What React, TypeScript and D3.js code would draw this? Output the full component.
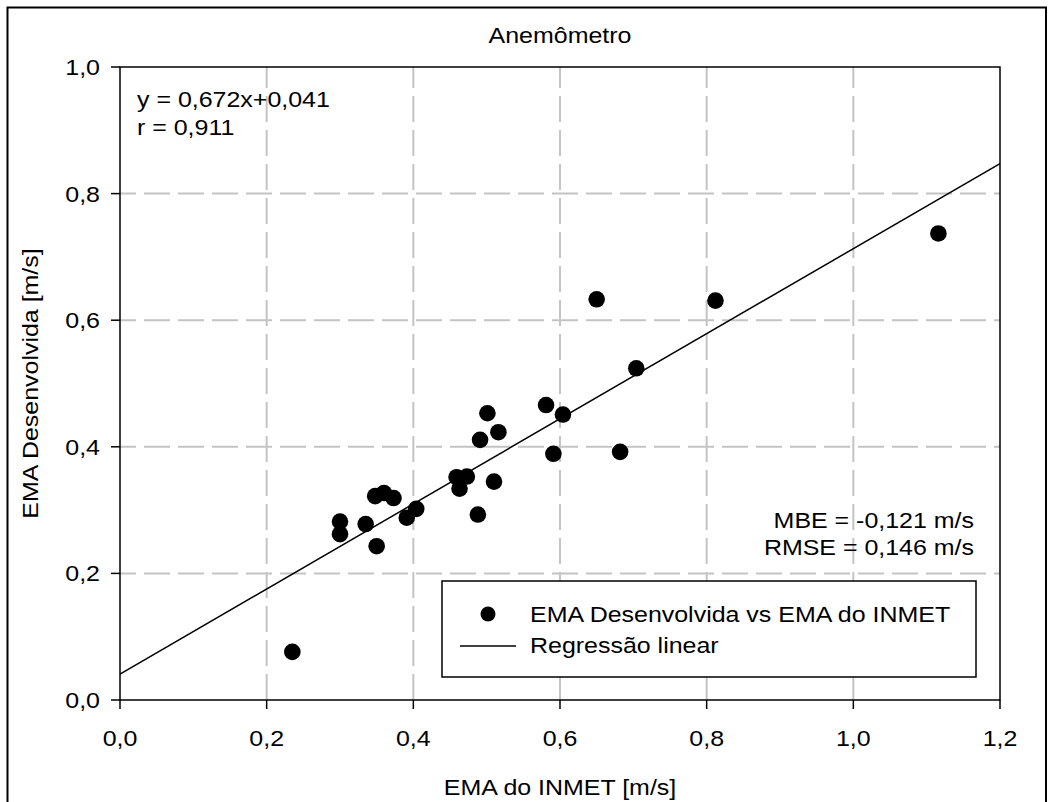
import React from "react";
import * as d3 from "d3";

const xValues = [0.235, 0.300, 0.300, 0.335, 0.350, 0.348, 0.360, 0.373, 0.391, 0.404, 0.459, 0.473, 0.463, 0.488, 0.510, 0.491, 0.501, 0.516, 0.581, 0.604, 0.591, 0.650, 0.812, 0.704, 0.682, 1.116];
const yValues = [0.076, 0.282, 0.262, 0.278, 0.243, 0.322, 0.327, 0.319, 0.288, 0.302, 0.352, 0.353, 0.334, 0.293, 0.345, 0.411, 0.453, 0.423, 0.466, 0.451, 0.389, 0.633, 0.631, 0.524, 0.392, 0.737];
const xTicks = [0, 0.2, 0.4, 0.6, 0.8, 1.0, 1.2];
const yTicks = [0, 0.2, 0.4, 0.6, 0.8, 1.0];
const slope = 0.672;
const intercept = 0.041;
const title = "Anemômetro";
const xTitle = "EMA do INMET [m/s]";
const yTitle = "EMA Desenvolvida [m/s]";
const eqLines = ["y = 0,672x+0,041", "r = 0,911"];
const statLines = ["MBE = -0,121 m/s", "RMSE = 0,146 m/s"];
const legendLabels = ["EMA Desenvolvida vs EMA do INMET", "Regressão linear"];

const W = 1053, H = 802;
const L = 120, R = 1000, T = 67, B = 700;
const FONT = "'Liberation Sans', Arial, sans-serif";
const FS = 22;
const SX = 1.135;

function Txt({ x, y, anchor = "start", rotate = 0, children }: any) {
  return (
    <text
      transform={`translate(${x},${y}) rotate(${rotate}) scale(${SX},1)`}
      textAnchor={anchor}
      fontSize={FS}
      fill="#000"
    >
      {children}
    </text>
  );
}

export default function App() {
  const x = d3.scaleLinear().domain([0, 1.2]).range([L, R]);
  const y = d3.scaleLinear().domain([0, 1.0]).range([B, T]);
  const fmt = (v: number) => v.toFixed(1).replace(".", ",");
  const line = d3.line<number>().x((d) => x(d)).y((d) => y(slope * d + intercept));
  const pts = xValues.map((v, i) => [v, yValues[i]]);
  return (
    <svg width={W} height={H} style={{ position: "absolute", left: 0, top: 0, background: "#fff" }} fontFamily={FONT}>
      <rect x={0} y={0} width={W} height={H} fill="#fff" />
      <rect x={7.5} y={7.5} width={1038.5} height={800} fill="none" stroke="#000" strokeWidth={2} />
      {xTicks.slice(1, -1).map((t) => (
        <line key={"gx" + t} x1={x(t)} x2={x(t)} y1={B} y2={T} stroke="#c4c4c4" strokeWidth={2} strokeDasharray="26 8" />
      ))}
      {yTicks.slice(1, -1).map((t) => (
        <line key={"gy" + t} x1={L} x2={R} y1={y(t)} y2={y(t)} stroke="#c4c4c4" strokeWidth={2} strokeDasharray="26 8" strokeDashoffset={10} />
      ))}
      <path d={line([0, 1.2]) || ""} fill="none" stroke="#000" strokeWidth={1.5} />
      {pts.map((p, i) => (
        <circle key={i} cx={x(p[0])} cy={y(p[1])} r={8.3} fill="#000" />
      ))}
      <rect x={L} y={T} width={R - L} height={B - T} fill="none" stroke="#000" strokeWidth={1.5} />
      {xTicks.map((t) => (
        <g key={"tx" + t}>
          <line x1={x(t)} x2={x(t)} y1={B} y2={B + 9} stroke="#000" strokeWidth={1.5} />
          <Txt x={x(t)} y={746} anchor="middle">{fmt(t)}</Txt>
        </g>
      ))}
      {yTicks.map((t) => (
        <g key={"ty" + t}>
          <line x1={L - 9} x2={L} y1={y(t)} y2={y(t)} stroke="#000" strokeWidth={1.5} />
          <Txt x={100} y={y(t) + 8} anchor="end">{fmt(t)}</Txt>
        </g>
      ))}
      <Txt x={(L + R) / 2} y={43} anchor="middle">{title}</Txt>
      <Txt x={(L + R) / 2} y={795} anchor="middle">{xTitle}</Txt>
      <Txt x={38} y={(T + B) / 2} anchor="middle" rotate={-90}>{yTitle}</Txt>
      {eqLines.map((s, i) => (
        <Txt key={s} x={137} y={107 + i * 28}>{s}</Txt>
      ))}
      {statLines.map((s, i) => (
        <Txt key={s} x={974} y={528 + i * 27} anchor="end">{s}</Txt>
      ))}
      <rect x={442} y={581} width={534} height={96} fill="#fff" stroke="#000" strokeWidth={1.5} />
      <circle cx={488} cy={614} r={7.5} fill="#000" />
      <Txt x={530} y={622}>{legendLabels[0]}</Txt>
      <line x1={460} x2={516} y1={646} y2={646} stroke="#000" strokeWidth={1.5} />
      <Txt x={530} y={653}>{legendLabels[1]}</Txt>
    </svg>
  );
}
